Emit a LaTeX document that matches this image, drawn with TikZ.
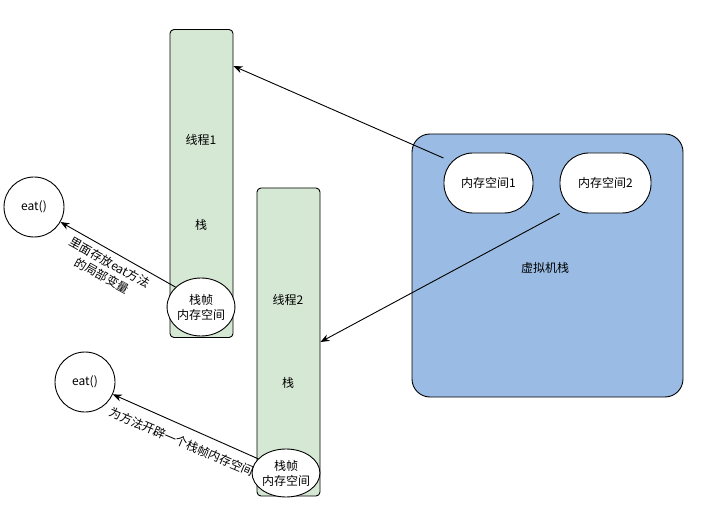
\documentclass[tikz,border=0pt]{standalone}
\usepackage{fontspec}
\setmainfont{Noto Sans CJK SC}
\usepackage{tikz}
\usetikzlibrary{arrows.meta,shapes.geometric,calc}
\definecolor{stackgreen}{RGB}{213,232,212}
\definecolor{vmblue}{RGB}{154,188,228}

\begin{document}
\begin{tikzpicture}[x=1pt,y=-1pt,line width=.9pt,font=\fontsize{12}{15}\selectfont,
  stackbox/.style={draw,fill=stackgreen,rounded corners=4pt,minimum width=63pt,minimum height=308pt},
  framebox/.style={draw,ellipse,fill=white,inner sep=0pt,align=center,minimum width=62pt},
  spacebox/.style={draw,fill=white,rounded corners=29pt,minimum height=60pt},
  methodbox/.style={draw,circle,minimum size=60pt,inner sep=0pt},
  link/.style={-{Stealth[length=9pt,width=7pt]}}]
 \useasboundingbox (0,0) rectangle (712,521);
 % the two thread stacks
    \foreach \n/\x/\y in {1/201.5/183.5,2/288.5/342}
    \node[stackbox] (stack\n) at (\x,\y) {};
    \foreach \n/\x/\y in {1/201/140,2/288/300}
    \node (thread\n) at (\x,\y) {线程\n};
    \node (stacklabel1) at (201,225) {栈};
    \node (stacklabel2) at (288,383) {栈};
    \node[framebox,minimum height=58pt] (frame1) at (201,307) {栈帧\\内存空间};
    \node[framebox,minimum height=48pt] (frame2) at (286,473) {栈帧\\内存空间};
 % virtual machine stack
    \node[draw,fill=vmblue,rounded corners=18pt,minimum width=271pt,minimum height=263pt] (vm) at (547.5,265.5) {};
    \node (vmlabel) at (545,268) {虚拟机栈};
    \node[spacebox,minimum width=89pt] (space1) at (488.5,183) {内存空间1};
    \node[spacebox,minimum width=91pt] (space2) at (605.5,183) {内存空间2};
 % eat() methods
    \node[methodbox] (eat1) at (34,207) {eat()};
    \node[methodbox] (eat2) at (85,382) {eat()};
    \draw[link] (frame1.142) -- (eat1);
    \draw[link] (frame2.153) -- (eat2);
    \draw[link] (space1.151) -- ($(stack1.north east)+(0,37)$);
    \draw[link] (space2.south west) -- (stack2.east);
    \node[rotate=-29,align=center] (note1) at (106,269) {里面存放eat方法\\的局部变量};
    \node[rotate=-23] (note2) at (182,442) {为方法开辟一个栈帧内存空间};
  \end{tikzpicture}
\end{document}
